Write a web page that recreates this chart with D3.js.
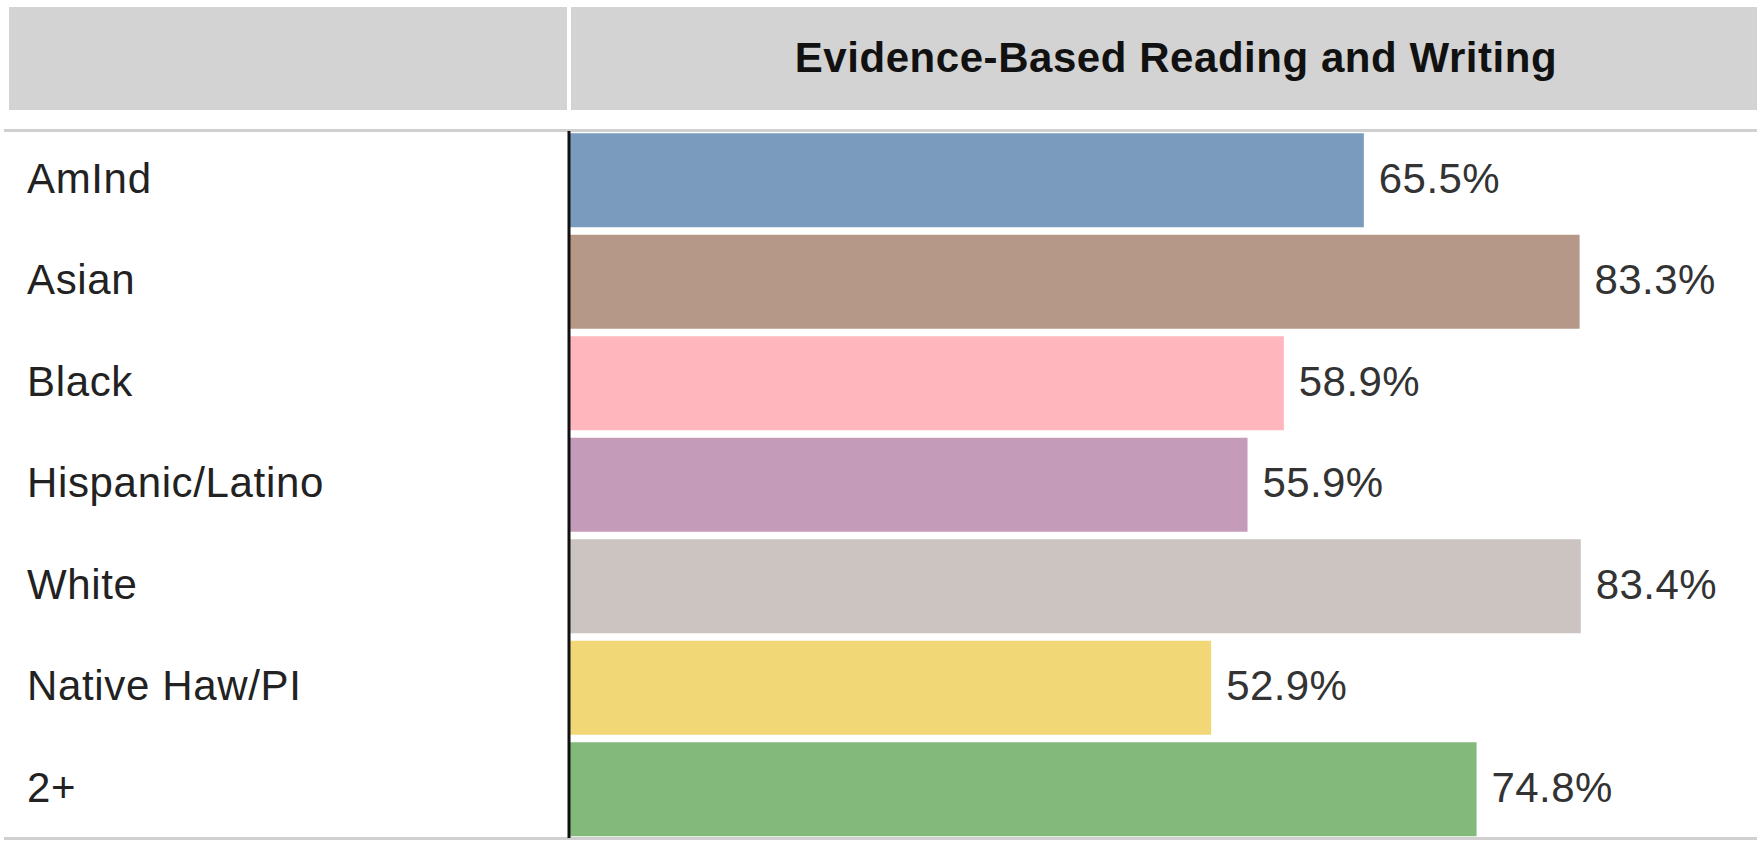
<!DOCTYPE html>
<html>
<head>
<meta charset="utf-8">
<script src="https://cdnjs.cloudflare.com/ajax/libs/d3/7.8.5/d3.min.js"></script>
<style>
  html, body { margin: 0; padding: 0; background: #fff; overflow: hidden; }
  svg { display: block; font-family: "Liberation Sans", Arial, sans-serif; }
</style>
</head>
<body>
<div id="my_dataviz"></div>
<script>
// Chart data
var groups = ["AmInd", "Asian", "Black", "Hispanic/Latino", "White", "Native Haw/PI", "2+"];
var values = [65.5, 83.3, 58.9, 55.9, 83.4, 52.9, 74.8];
var barColors = ["#4E79A7", "#9C755F", "#FF9DA7", "#B07AA1", "#BAB0AC", "#EDC948", "#59A14F"];
var title = "Evidence-Based Reading and Writing";

function drawChart() {
	var width = 1757, height = 846;
	var axisX = 570;

	var svg = d3.select("#my_dataviz")
		.html("")
		.append("svg")
		.attr("width", width)
		.attr("height", height);

	// header cells
	svg.append("rect")
		.attr("x", 9).attr("y", 7)
		.attr("width", 558).attr("height", 103)
		.style("fill", "#d3d3d3");
	svg.append("rect")
		.attr("x", 571).attr("y", 7)
		.attr("width", 1212).attr("height", 103)
		.style("fill", "#d3d3d3");

	// scales
	var x = d3.scaleLinear()
		.domain([0, 100])
		.range([axisX, 1782]);

	var y = d3.scaleBand()
		.domain(groups)
		.range([129.5, 840])
		.paddingInner(0.074)
		.paddingOuter(0.037);

	svg.append("text")
		.attr("x", (x(0) + x(100)) / 2)
		.attr("y", 72)
		.attr("text-anchor", "middle")
		.style("font-size", "42px")
		.style("font-weight", "bold")
		.style("letter-spacing", "0.55px")
		.style("fill", "#111")
		.text(title);

	// row separators
	svg.append("rect")
		.attr("x", 4).attr("y", 129)
		.attr("width", width).attr("height", 3)
		.style("fill", "#d0d0d0");
	svg.append("rect")
		.attr("x", 4).attr("y", 837)
		.attr("width", width).attr("height", 3)
		.style("fill", "#d0d0d0");

	// bars
	svg.selectAll(".bar")
		.data(values)
		.enter()
		.append("rect")
		.attr("class", "bar")
		.attr("x", x(0))
		.attr("y", function (d, i) { return y(groups[i]) })
		.attr("width", function (d) { return x(d) - x(0) })
		.attr("height", y.bandwidth())
		.style("fill", function (d, i) { return barColors[i] })
		.style("fill-opacity", 0.75);

	// value labels
	svg.selectAll(".val")
		.data(values)
		.enter()
		.append("text")
		.attr("class", "val")
		.attr("x", function (d) { return x(d) + 15 })
		.attr("y", function (d, i) { return y(groups[i]) + y.bandwidth() / 2 })
		.attr("dy", "0.3em")
		.style("font-size", "42px")
		.style("letter-spacing", "0.4px")
		.style("fill", "#333")
		.text(function (d) { return d.toFixed(1) + "%" });

	// category labels
	svg.selectAll(".cat")
		.data(groups)
		.enter()
		.append("text")
		.attr("class", "cat")
		.attr("x", 27)
		.attr("y", function (d) { return y(d) + y.bandwidth() / 2 })
		.attr("dy", "0.3em")
		.style("font-size", "42px")
		.style("letter-spacing", "0.65px")
		.style("fill", "#222")
		.text(function (d) { return d });

	// axis line
	svg.append("line")
		.attr("x1", 569).attr("x2", 569)
		.attr("y1", 131).attr("y2", 838)
		.style("stroke", "#111")
		.style("stroke-width", 3);
}

document.addEventListener("DOMContentLoaded", function() {
	drawChart();
});
</script>
</body>
</html>
